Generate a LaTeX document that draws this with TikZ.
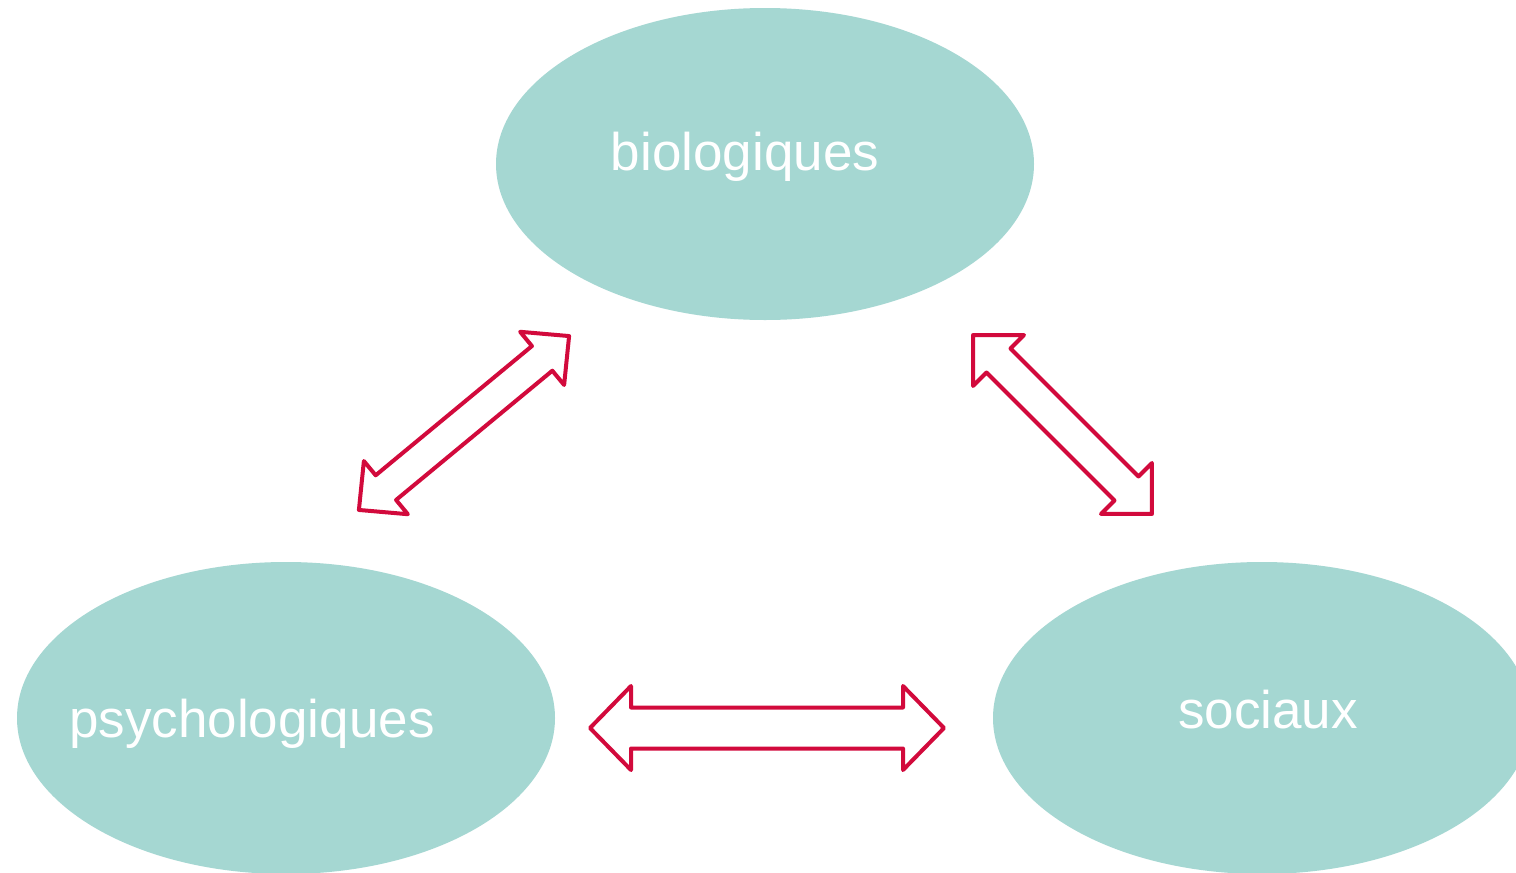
\documentclass[tikz,border=0pt]{standalone}
\usepackage{fontspec}
\setmainfont{Liberation Sans}
\definecolor{teal}{HTML}{A5D7D2}
\definecolor{arrred}{HTML}{D20A3C}
\tikzset{
  blob/.style={ellipse, fill=teal, draw=none, minimum width=269pt, minimum height=156pt, inner sep=0pt},
  lbl/.style={text=white, font=\fontsize{26.5pt}{30pt}\selectfont, anchor=base, inner sep=0pt},
  arrowline/.style={draw=arrred, line width=2pt, line join=round, fill=white},
  pics/dblarrow/.style n args={4}{code={
    \draw[arrowline] (-#1,0) -- (-#1+#2,#4) -- (-#1+#2,#3) -- (#1-#2,#3) -- (#1-#2,#4) -- (#1,0)
      -- (#1-#2,-#4) -- (#1-#2,-#3) -- (-#1+#2,-#3) -- (-#1+#2,-#4) -- cycle;
  }}
}
\usetikzlibrary{shapes.geometric}
\begin{document}
\begin{tikzpicture}[x=0.5pt, y=-0.5pt]
\useasboundingbox[fill=white] (0,0) rectangle (1516,873);
\begin{scope}
\clip (0,0) rectangle (1516,873);
\node[blob] (bio) at (765,164) {};
\node[blob] (psy) at (286,718) {};
\node[blob] (soc) at (1262,718) {};
\end{scope}
\node[lbl] (tbio) at (745,170) {biologiques};
\node[lbl] (tpsy) at (252,737) {psychologiques};
\node[lbl] (tsoc) at (1268,728) {sociaux};
\pic (a1) at (464,423) [rotate=39.6] {dblarrow={136.4}{35}{16}{34.5}};
\pic (a2) at (1062.5,424.5) [rotate=-45] {dblarrow={126.5}{36}{17}{36}};
\pic (a3) at (767,728) {dblarrow={177}{41}{20.5}{42}};
\end{tikzpicture}
\end{document}
